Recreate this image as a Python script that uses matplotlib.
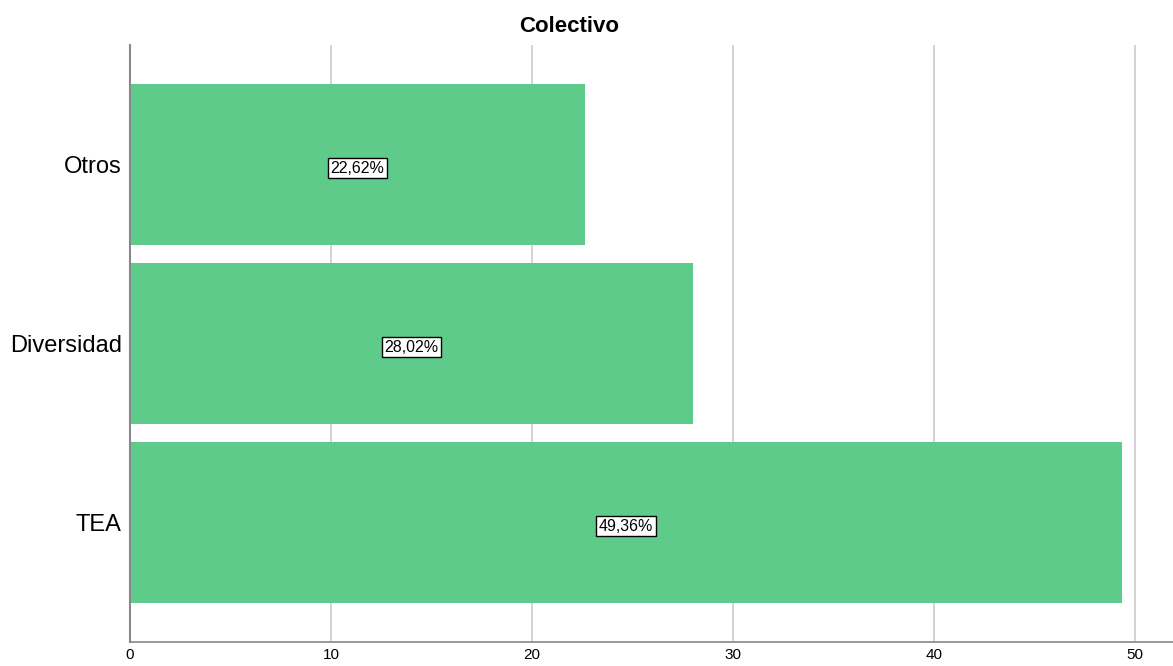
import matplotlib.pyplot as plt

# Datos
categorias = ['TEA', 'Diversidad', 'Otros']
porcentajes = [49.36, 28.02, 22.62]
etiquetas = ['49,36%', '28,02%', '22,62%']
ticks_x = [0, 10, 20, 30, 40, 50]

plt.rcParams['font.family'] = ['Liberation Sans', 'DejaVu Sans']

fig = plt.figure(figsize=(11.73, 6.66), dpi=100)
ax = fig.add_axes([130 / 1173, 1 - 642 / 666, 1 - 130 / 1173, (642 - 45) / 666])

pos = range(len(categorias))
ax.barh(pos, porcentajes, height=0.9, color='#5ECB8B', zorder=2)

# Etiquetas dentro de las barras
for p, v, t in zip(pos, porcentajes, etiquetas):
    ax.text(v / 2, p - 0.02, t, ha='center', va='center', fontsize=11.5, color='black', zorder=3,
            bbox=dict(boxstyle='square,pad=0.15', facecolor='white', edgecolor='black', linewidth=1))

ax.set_xlim(0, 51.9)
ax.set_ylim(-0.668, 2.668)
ax.set_xticks(ticks_x)
ax.set_xticklabels([str(t) for t in ticks_x], fontsize=11)
ax.set_yticks(list(pos))
ax.set_yticklabels(categorias, fontsize=17)
ax.tick_params(axis='both', length=0, pad=6)
ax.tick_params(axis='x', pad=4)

ax.grid(axis='x', color='#CCCCCC', linewidth=1.2, zorder=1)
for s in ['top', 'right']:
    ax.spines[s].set_visible(False)
ax.spines['left'].set_color('#888888')
ax.spines['left'].set_linewidth(1.5)
ax.spines['bottom'].set_color('#888888')
ax.spines['bottom'].set_linewidth(1.2)

fig.text(569 / 1173, 1 - 26 / 666, 'Colectivo', ha='center', va='center',
         fontsize=16, fontweight='bold')

fig.savefig('out.png', dpi=100)
